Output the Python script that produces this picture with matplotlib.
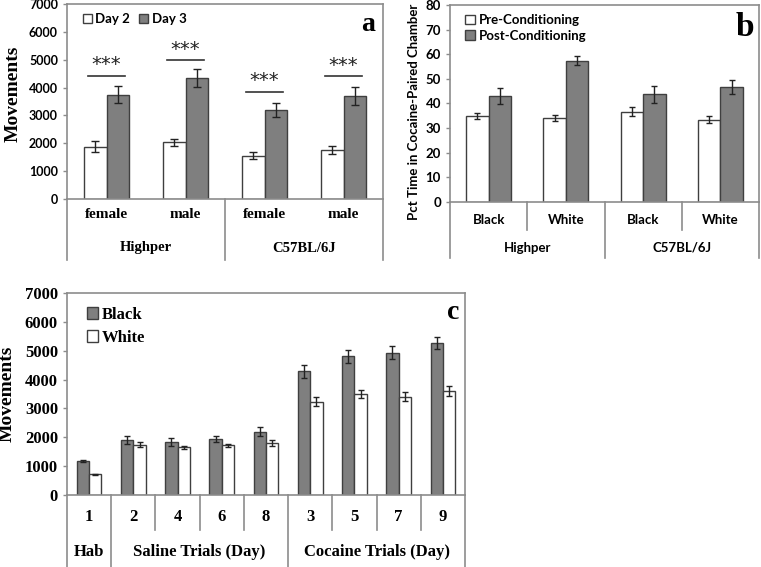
import matplotlib
matplotlib.use("Agg")
import matplotlib.pyplot as plt
import matplotlib.transforms as mtransforms
from matplotlib.patches import Patch
import numpy as np

# data - panel a (movements, day 2 vs day 3)
a_groups = ["Highper", "C57BL/6J"]
a_cats = ["female", "male", "female", "male"]
a_day2 = [1880, 2030, 1550, 1760]
a_day2_err = [200, 130, 130, 140]
a_day3 = [3750, 4330, 3200, 3700]
a_day3_err = [300, 320, 250, 330]
a_sig_y = [4410, 4980, 3850, 4400]

# data - panel b (pct time in cocaine-paired chamber)
b_groups = ["Highper", "C57BL/6J"]
b_cats = ["Black", "White", "Black", "White"]
b_pre = [34.9, 34.2, 36.7, 33.4]
b_pre_err = [1.2, 1.3, 1.8, 1.5]
b_post = [43.1, 57.4, 43.8, 46.7]
b_post_err = [3.3, 1.8, 3.5, 2.9]

# data - panel c (movements per day)
c_groups = ["Hab", "Saline Trials (Day)", "Cocaine Trials (Day)"]
c_days = ["1", "2", "4", "6", "8", "3", "5", "7", "9"]
c_black = [1180, 1900, 1830, 1950, 2200, 4290, 4800, 4930, 5270]
c_black_err = [25, 145, 145, 110, 145, 225, 230, 220, 200]
c_white = [720, 1740, 1650, 1720, 1790, 3240, 3490, 3410, 3600]
c_white_err = [15, 90, 60, 60, 100, 170, 145, 150, 170]

W, H = 761, 567
fig = plt.figure(figsize=(W / 100, H / 100), dpi=100)

SERIF = "Liberation Serif"
SANS = "Lato"
DARK = "#7f7f7f"
EDGE = "#3f3f3f"
SPINE = "#8c8c8c"


def px_axes(l, t, r, b):
    return fig.add_axes([l / W, 1 - b / H, (r - l) / W, (b - t) / H])


def fy(ypx):
    return 1 - ypx / H


def style_axes(ax):
    for s in ax.spines.values():
        s.set_color(SPINE)
        s.set_linewidth(1.2)
    ax.tick_params(axis="y", direction="out", length=3, color=SPINE, width=1)
    ax.tick_params(axis="x", length=0, labelbottom=False)


def drop_line(ax, xfrac, y_top, y_bot):
    tr = mtransforms.blended_transform_factory(ax.transAxes, fig.transFigure)
    ax.plot([xfrac, xfrac], [fy(y_top), fy(y_bot)], transform=tr,
            color=SPINE, lw=1.2, clip_on=False)


def cat_text(ax, x, ypx, s, family, size):
    tr = mtransforms.blended_transform_factory(ax.transData, fig.transFigure)
    ax.text(x, fy(ypx), s, transform=tr, ha="center", va="center",
            fontfamily=family, fontweight="bold", fontsize=size)


err_kw = dict(ecolor="#222222", elinewidth=1, capthick=1)

# ---------------- panel a ----------------
ax_a = px_axes(67, 4, 383, 199)
x = np.arange(len(a_cats))
w = 0.29
ax_a.bar(x - w / 2, a_day2, w, yerr=a_day2_err, color="white", edgecolor=EDGE,
         linewidth=1, capsize=3, error_kw=err_kw, zorder=2)
ax_a.bar(x + w / 2, a_day3, w, yerr=a_day3_err, color=DARK, edgecolor=EDGE,
         linewidth=1, capsize=3, error_kw=err_kw, zorder=2)
for i, yy in enumerate(a_sig_y):
    ax_a.plot([i - 0.24, i + 0.24], [yy, yy], color="#333333", lw=1.2)
    ax_a.text(i, yy + 60, "***", ha="center", va="bottom", fontsize=14,
              fontfamily="DejaVu Sans", color="#222222")
ax_a.set_xlim(-0.5, 3.5)
ax_a.set_ylim(0, 7000)
ax_a.set_yticks(range(0, 7001, 1000))
ax_a.set_yticklabels([str(v) for v in range(0, 7001, 1000)],
                     fontfamily=SANS, fontweight="bold", fontsize=9)
style_axes(ax_a)
ax_a.set_ylabel("Movements", fontfamily=SERIF, fontweight="bold", fontsize=14)
ax_a.yaxis.set_label_coords(-0.142, 0.54)
for xf in [0, 0.5, 1]:
    drop_line(ax_a, xf, 199, 260)
for i, c in enumerate(a_cats):
    cat_text(ax_a, i, 215, c, SERIF, 11)
for j, g in enumerate(a_groups):
    cat_text(ax_a, 0.5 + 2 * j, 248, g, SERIF, 10.5)
ax_a.legend(handles=[Patch(facecolor="white", edgecolor=EDGE, label="Day 2"),
                     Patch(facecolor=DARK, edgecolor=EDGE, label="Day 3")],
            loc="upper left", bbox_to_anchor=(0.02, 1.0), ncol=2, frameon=False,
            handlelength=0.7, handleheight=0.7, handletextpad=0.25,
            columnspacing=0.7, borderaxespad=0.3,
            prop=dict(family=SANS, weight="bold", size=9.5))
ax_a.text(0.975, 0.96, "a", transform=ax_a.transAxes, ha="right", va="top",
          fontfamily=SERIF, fontweight="bold", fontsize=20)

# ---------------- panel b ----------------
ax_b = px_axes(450, 5, 759, 202)
x = np.arange(len(b_cats))
w = 0.29
ax_b.bar(x - w / 2, b_pre, w, yerr=b_pre_err, color="white", edgecolor=EDGE,
         linewidth=1, capsize=2, error_kw=err_kw, zorder=2)
ax_b.bar(x + w / 2, b_post, w, yerr=b_post_err, color=DARK, edgecolor=EDGE,
         linewidth=1, capsize=2, error_kw=err_kw, zorder=2)
ax_b.set_xlim(-0.5, 3.5)
ax_b.set_ylim(0, 80)
ax_b.set_yticks(range(0, 81, 10))
ax_b.set_yticklabels([str(v) for v in range(0, 81, 10)],
                     fontfamily=SANS, fontweight="bold", fontsize=9.5)
style_axes(ax_b)
ax_b.set_ylabel("Pct Time in Cocaine-Paired Chamber", fontfamily=SANS,
                fontweight="bold", fontsize=9.5)
ax_b.yaxis.set_label_coords(-0.097, 0.46)
for xf in [0, 0.5, 1]:
    drop_line(ax_b, xf, 202, 258)
for xf in [0.25, 0.75]:
    drop_line(ax_b, xf, 202, 230)
for i, c in enumerate(b_cats):
    cat_text(ax_b, i, 220, c, SANS, 9.5)
for j, g in enumerate(b_groups):
    cat_text(ax_b, 0.5 + 2 * j, 248, g, SANS, 9.5)
ax_b.legend(handles=[Patch(facecolor="white", edgecolor=EDGE, label="Pre-Conditioning"),
                     Patch(facecolor=DARK, edgecolor=EDGE, label="Post-Conditioning")],
            loc="upper left", bbox_to_anchor=(0.02, 1.0), frameon=False,
            handlelength=0.7, handleheight=0.7, handletextpad=0.3,
            labelspacing=0.25, borderaxespad=0.3,
            prop=dict(family=SANS, weight="bold", size=9.5))
ax_b.text(0.985, 0.965, "b", transform=ax_b.transAxes, ha="right", va="top",
          fontfamily=SERIF, fontweight="bold", fontsize=24)

# ---------------- panel c ----------------
ax_c = px_axes(67, 293, 465, 495)
x = np.arange(len(c_days))
w = 0.28
ax_c.bar(x - w / 2, c_black, w, yerr=c_black_err, color=DARK, edgecolor=EDGE,
         linewidth=1, capsize=2.5, error_kw=err_kw, zorder=2)
ax_c.bar(x + w / 2, c_white, w, yerr=c_white_err, color="white", edgecolor=EDGE,
         linewidth=1, capsize=2.5, error_kw=err_kw, zorder=2)
ax_c.set_xlim(-0.5, 8.5)
ax_c.set_ylim(0, 7000)
ax_c.set_yticks(range(0, 7001, 1000))
ax_c.set_yticklabels([str(v) for v in range(0, 7001, 1000)],
                     fontfamily=SERIF, fontweight="bold", fontsize=12)
style_axes(ax_c)
ax_c.set_ylabel("Movements", fontfamily=SERIF, fontweight="bold", fontsize=14)
ax_c.yaxis.set_label_coords(-0.128, 0.5)
n = len(c_days)
for k in [0, 1, 5, 9]:
    drop_line(ax_c, k / n, 495, 567)
for k in [2, 3, 4, 6, 7, 8]:
    drop_line(ax_c, k / n, 495, 530)
for i, c in enumerate(c_days):
    cat_text(ax_c, i, 517, c, SERIF, 12)
group_centers = [0, 2.5, 6.5]
for g, gx in zip(c_groups, group_centers):
    cat_text(ax_c, gx, 552, g, SERIF, 12)
ax_c.legend(handles=[Patch(facecolor=DARK, edgecolor=EDGE, label="Black"),
                     Patch(facecolor="white", edgecolor=EDGE, label="White")],
            loc="upper left", bbox_to_anchor=(0.02, 0.99), frameon=False,
            handlelength=0.7, handleheight=0.8, handletextpad=0.2,
            labelspacing=0.4, borderaxespad=0.3,
            prop=dict(family=SERIF, weight="bold", size=12))
ax_c.text(0.985, 0.965, "c", transform=ax_c.transAxes, ha="right", va="top",
          fontfamily=SERIF, fontweight="bold", fontsize=20)

fig.savefig("out.png", dpi=100)
